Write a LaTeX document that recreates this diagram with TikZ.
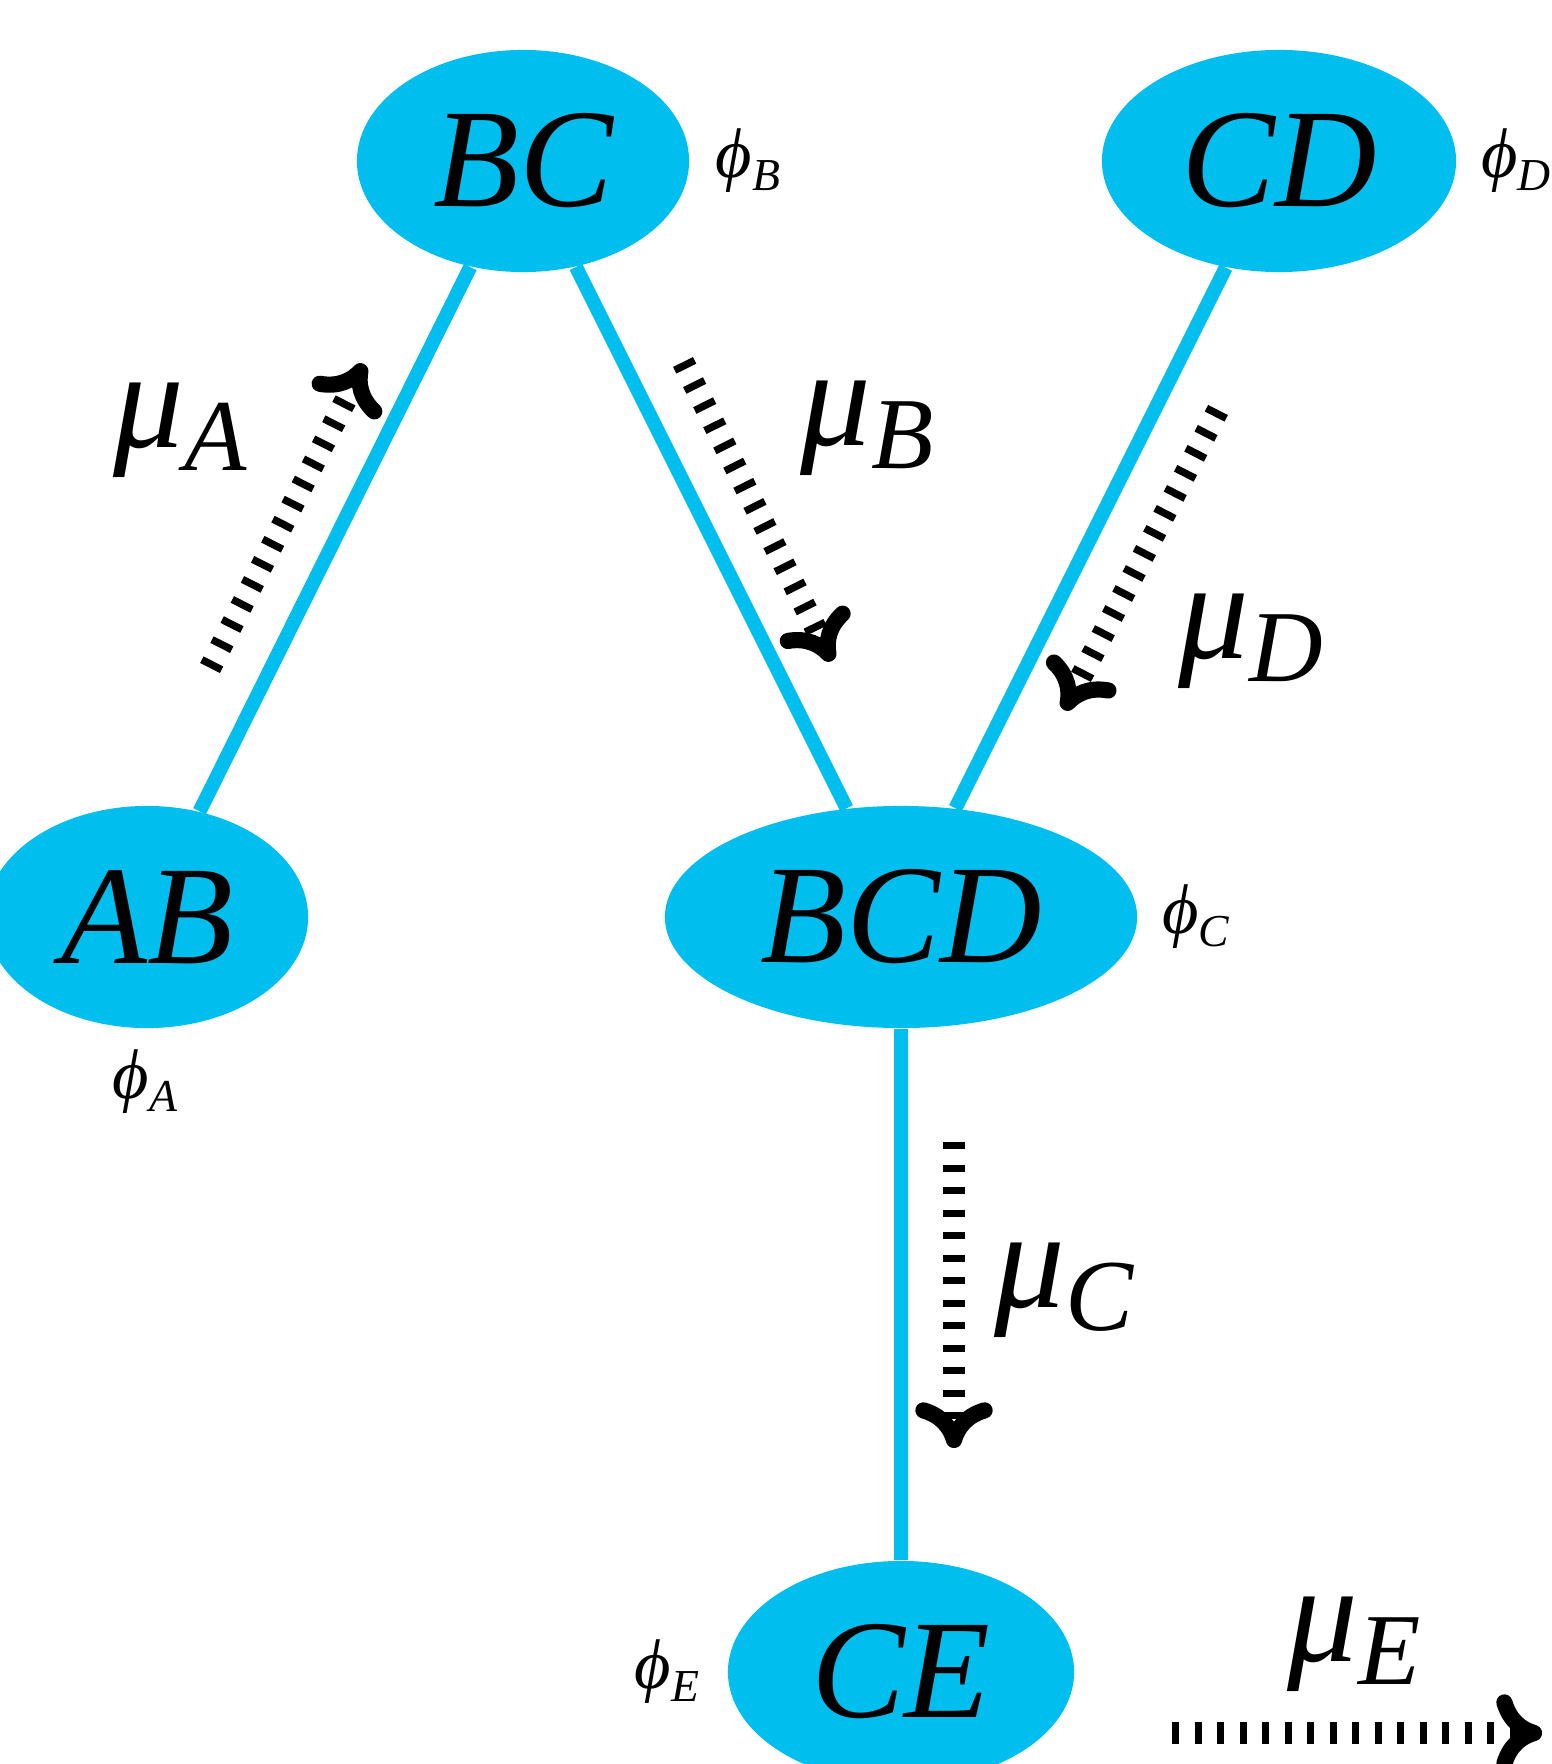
\documentclass[tikz,border=0pt]{standalone}
\usepackage{fontspec}
\setmainfont{Liberation Serif}
\usetikzlibrary{arrows.meta,shapes.geometric}
\definecolor{cliquecyan}{RGB}{0,190,238}
\newcommand{\mulab}[1]{{\fontsize{40}{40}\selectfont\itshape μ}\raisebox{-6.5pt}{\fontsize{29}{29}\selectfont\itshape #1}}
\newcommand{\philab}[1]{{\fontsize{20}{20}\selectfont\itshape ϕ}\raisebox{-3.5pt}{\fontsize{13}{13}\selectfont\itshape #1}}

\begin{document}
\begin{tikzpicture}[x=0.01cm,y=-0.01cm,
	clique/.style={ellipse,fill=cliquecyan,inner sep=0pt,minimum height=2.22cm,
		font=\fontsize{40}{48}\selectfont\itshape},
	edge/.style={draw=cliquecyan,line width=4pt},
	msg/.style={line width=6.3pt,dash pattern=on 2.1pt off 4.3pt,
		-{Computer Modern Rightarrow[width=22pt,length=13pt,line width=4.6pt]}},
	lab/.style={inner sep=0pt}]
	\useasboundingbox (0,0) rectangle (1552,1764);
	% Cliquen
	\node[clique,minimum width=3.32cm] (BC) at (523,161) {BC};
	\node[clique,minimum width=3.54cm] (CD) at (1279,161) {CD};
	\node[clique,minimum width=3.22cm] (AB) at (147,917) {AB};
	\node[clique,minimum width=4.72cm] (BCD) at (901,917) {BCD};
	\node[clique,minimum width=3.46cm] (CE) at (901,1672) {CE};
	% Kanten
	\draw[edge] (BC) -- (AB);
	\draw[edge] (BC) -- (BCD);
	\draw[edge] (CD) -- (BCD);
	\draw[edge] (BCD) -- (CE);
	% Potentiale
	\node[lab] (phiA) at (145,1082) {\philab{A}};
	\node[lab] (phiB) at (748,161) {\philab{B}};
	\node[lab] (phiC) at (1196,917) {\philab{C}};
	\node[lab] (phiD) at (1516,161) {\philab{D}};
	\node[lab] (phiE) at (667,1672) {\philab{E}};
	% Nachrichten
	\coordinate (mA0) at (210,668);
	\coordinate (mA1) at (364,364);
	\coordinate (mB0) at (683,362);
	\coordinate (mB1) at (832,661);
	\coordinate (mD0) at (1218,410);
	\coordinate (mD1) at (1064,710);
	\coordinate (mC0) at (954,1142);
	\coordinate (mC1) at (954,1448);
	\coordinate (mE0) at (1172,1733);
	\coordinate (mE1) at (1542,1733);
	\draw[msg] (mA0) -- (mA1);
	\draw[msg] (mB0) -- (mB1);
	\draw[msg] (mD0) -- (mD1);
	\draw[msg] (mC0) -- (mC1);
	\draw[msg] (mE0) -- (mE1);
	\node[lab] (muA) at (180,430) {\mulab{A}};
	\node[lab] (muB) at (867,428) {\mulab{B}};
	\node[lab] (muD) at (1251,641) {\mulab{D}};
	\node[lab] (muC) at (1064,1290) {\mulab{C}};
	\node[lab] (muE) at (1354,1644) {\mulab{E}};
\end{tikzpicture}
\end{document}
